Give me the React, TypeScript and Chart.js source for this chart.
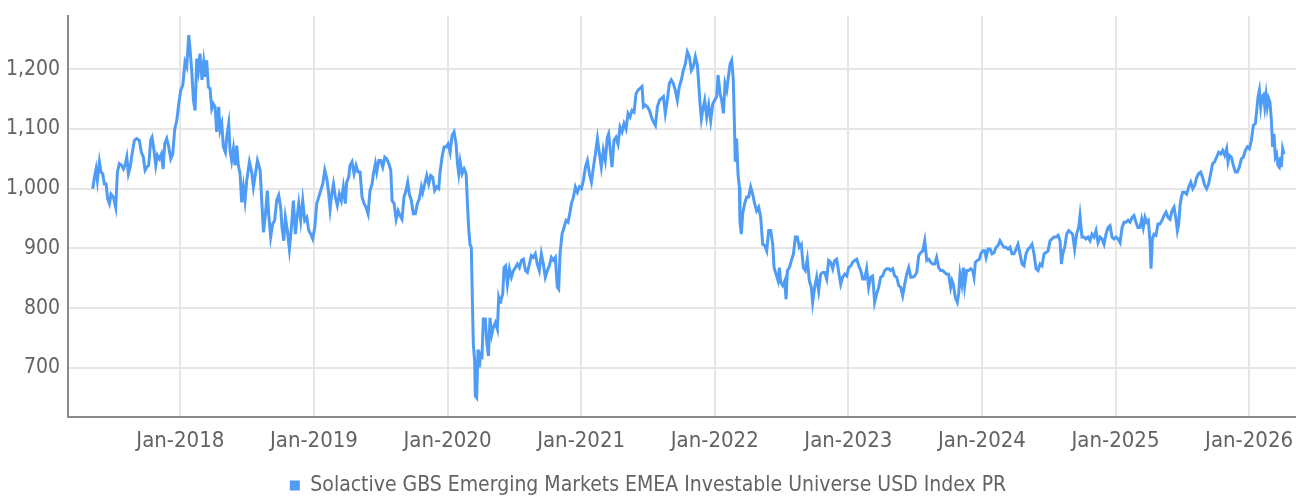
import React, { useEffect, useRef } from 'react';
import { Chart, registerables } from 'chart.js';

Chart.register(...registerables);

const seriesName = 'Solactive GBS Emerging Markets EMEA Investable Universe USD Index PR';

const dates2017 = [
  2017.344, 2017.357, 2017.369, 2017.379, 2017.394, 2017.406, 2017.419, 2017.431, 2017.444, 2017.456,
  2017.469, 2017.481, 2017.499, 2017.516, 2017.529, 2017.544, 2017.561, 2017.574, 2017.586, 2017.599,
  2017.611, 2017.624, 2017.641, 2017.656, 2017.673, 2017.693, 2017.708, 2017.723, 2017.736, 2017.748,
  2017.763, 2017.778, 2017.788, 2017.803, 2017.816, 2017.828, 2017.843, 2017.858, 2017.871, 2017.883,
  2017.898, 2017.913, 2017.928, 2017.943, 2017.958, 2017.973, 2017.988, 2018.003, 2018.018, 2018.035,
  2018.048, 2018.063, 2018.073, 2018.085, 2018.098, 2018.110, 2018.123, 2018.135, 2018.147, 2018.162,
  2018.175, 2018.187, 2018.197, 2018.210, 2018.222, 2018.235, 2018.247, 2018.260, 2018.272, 2018.287,
  2018.297, 2018.310, 2018.322, 2018.337, 2018.350, 2018.362, 2018.372, 2018.384, 2018.397, 2018.409,
  2018.422, 2018.434, 2018.447, 2018.459, 2018.472, 2018.484, 2018.497, 2018.517, 2018.534, 2018.547,
  2018.562, 2018.577,
];
const values2017 = [
  1000, 1019, 1033, 1014, 1045, 1028, 1025, 1008, 1008, 983,
  975, 991, 986, 969, 1028, 1042, 1039, 1033, 1039, 1053,
  1025, 1036, 1061, 1081, 1084, 1081, 1061, 1053, 1031, 1036,
  1039, 1081, 1086, 1064, 1039, 1056, 1050, 1058, 1033, 1075,
  1084, 1070, 1050, 1058, 1100, 1114, 1142, 1165, 1173, 1212,
  1204, 1257, 1232, 1198, 1148, 1131, 1218, 1198, 1226, 1182,
  1212, 1187, 1215, 1170, 1168, 1134, 1142, 1137, 1095, 1137,
  1098, 1109, 1070, 1061, 1092, 1109, 1064, 1047, 1067, 1039,
  1072, 1039, 1025, 977, 1003, 980, 1014, 1045, 1028, 1003,
  1025, 1047,
];

const dates2018 = [
  2018.597, 2018.612, 2018.622, 2018.637, 2018.651, 2018.661, 2018.676, 2018.691, 2018.706, 2018.721,
  2018.736, 2018.751, 2018.761, 2018.774, 2018.786, 2018.801, 2018.816, 2018.831, 2018.846, 2018.861,
  2018.871, 2018.886, 2018.901, 2018.916, 2018.931, 2018.946, 2018.961, 2018.976, 2018.991, 2019.006,
  2019.021, 2019.036, 2019.051, 2019.066, 2019.081, 2019.096, 2019.108, 2019.121, 2019.133, 2019.146,
  2019.160, 2019.175, 2019.190, 2019.205, 2019.220, 2019.235, 2019.245, 2019.260, 2019.270, 2019.285,
  2019.300, 2019.315, 2019.330, 2019.345, 2019.360, 2019.375, 2019.390, 2019.405, 2019.420, 2019.435,
  2019.445, 2019.460, 2019.470, 2019.485, 2019.500, 2019.515, 2019.530, 2019.545, 2019.560, 2019.575,
  2019.585, 2019.600, 2019.615, 2019.630, 2019.644, 2019.659, 2019.674, 2019.689, 2019.702, 2019.714,
  2019.729, 2019.744, 2019.759, 2019.774, 2019.789, 2019.804, 2019.814, 2019.829, 2019.844, 2019.859,
  2019.874, 2019.889, 2019.904, 2019.919, 2019.934, 2019.944, 2019.959, 2019.974, 2019.989, 2020.004,
  2020.019, 2020.034, 2020.049, 2020.064, 2020.074, 2020.084, 2020.094, 2020.109, 2020.124, 2020.139,
  2020.148, 2020.158, 2020.168, 2020.178, 2020.186, 2020.193, 2020.203, 2020.208, 2020.218, 2020.228,
  2020.238, 2020.248, 2020.258, 2020.268, 2020.283, 2020.293, 2020.306, 2020.318, 2020.331, 2020.343,
  2020.358, 2020.373, 2020.383, 2020.393,
];
const values2018 = [
  1031, 969, 927, 958, 997, 958, 919, 941, 947, 980,
  989, 969, 935, 913, 952, 930, 899, 935, 980, 924,
  947, 975, 947, 980, 947, 952, 930, 924, 916, 935,
  975, 986, 997, 1008, 1031, 1017, 997, 966, 991, 1008,
  986, 972, 991, 980, 1003, 975, 1011, 1019, 1039, 1045,
  1025, 1039, 1028, 1028, 986, 975, 969, 958, 997, 1008,
  1025, 1042, 1028, 1047, 1047, 1036, 1053, 1050, 1042, 1031,
  980, 975, 949, 963, 955, 949, 986, 997, 1011, 991,
  980, 958, 958, 975, 983, 1003, 994, 1008, 1022, 1008,
  1022, 1019, 997, 1003, 1000, 1028, 1053, 1070, 1070, 1075,
  1061, 1089, 1095, 1075, 1042, 1025, 1045, 1025, 1033, 1025,
  980, 935, 907, 902, 812, 740, 712, 653, 650, 731,
  701, 723, 720, 782, 782, 745, 720, 784, 756, 768,
  776, 765, 818, 810,
];

const dates2020 = [
  2020.398, 2020.413, 2020.423, 2020.435, 2020.448, 2020.463, 2020.478, 2020.493, 2020.508, 2020.523,
  2020.538, 2020.553, 2020.568, 2020.583, 2020.598, 2020.613, 2020.627, 2020.642, 2020.657, 2020.672,
  2020.687, 2020.702, 2020.717, 2020.732, 2020.747, 2020.762, 2020.777, 2020.792, 2020.807, 2020.822,
  2020.832, 2020.842, 2020.857, 2020.872, 2020.887, 2020.902, 2020.917, 2020.927, 2020.942, 2020.957,
  2020.972, 2020.987, 2021.002, 2021.017, 2021.032, 2021.047, 2021.062, 2021.077, 2021.092, 2021.107,
  2021.122, 2021.137, 2021.151, 2021.166, 2021.181, 2021.196, 2021.206, 2021.221, 2021.231, 2021.246,
  2021.261, 2021.276, 2021.291, 2021.306, 2021.321, 2021.336, 2021.351, 2021.366, 2021.381, 2021.396,
  2021.411, 2021.426, 2021.441, 2021.456, 2021.466, 2021.481, 2021.496, 2021.511, 2021.526, 2021.541,
  2021.556, 2021.571, 2021.586, 2021.601, 2021.616, 2021.630, 2021.645, 2021.660, 2021.675, 2021.690,
  2021.705, 2021.720, 2021.735, 2021.750, 2021.765, 2021.780, 2021.795, 2021.810, 2021.825, 2021.840,
  2021.855, 2021.870, 2021.880, 2021.890, 2021.900, 2021.910, 2021.925, 2021.940, 2021.955, 2021.970,
  2021.985, 2022.000, 2022.015, 2022.025, 2022.040,
];
const values2020 = [
  812, 824, 868, 871, 840, 866, 852, 863, 868, 874,
  868, 880, 882, 863, 860, 874, 888, 885, 891, 874,
  863, 891, 874, 852, 863, 871, 885, 880, 885, 835,
  832, 891, 924, 935, 947, 944, 961, 975, 986, 1003,
  994, 1003, 1000, 1014, 1036, 1047, 1025, 1011, 1036, 1058,
  1084, 1058, 1036, 1064, 1047, 1086, 1092, 1058, 1036, 1081,
  1086, 1075, 1103, 1095, 1109, 1100, 1126, 1120, 1131, 1128,
  1159, 1165, 1168, 1171, 1137, 1140, 1137, 1131, 1120, 1112,
  1106, 1137, 1148, 1151, 1154, 1126, 1148, 1176, 1182, 1176,
  1165, 1148, 1171, 1182, 1198, 1209, 1229, 1221, 1198, 1204,
  1221, 1207, 1176, 1142, 1117, 1131, 1148, 1120, 1140, 1114,
  1142, 1148, 1154, 1190, 1159,
];

const dates2022 = [
  2022.052, 2022.065, 2022.077, 2022.090, 2022.102, 2022.115, 2022.127, 2022.139, 2022.149, 2022.154,
  2022.164, 2022.174, 2022.184, 2022.189, 2022.199, 2022.209, 2022.224, 2022.239, 2022.254, 2022.269,
  2022.284, 2022.299, 2022.314, 2022.329, 2022.344, 2022.359, 2022.374, 2022.389, 2022.404, 2022.419,
  2022.434, 2022.444, 2022.459, 2022.474, 2022.484, 2022.494, 2022.509, 2022.524, 2022.534, 2022.544,
  2022.559, 2022.574, 2022.589, 2022.604, 2022.618, 2022.633, 2022.648, 2022.663, 2022.678, 2022.693,
  2022.708, 2022.723, 2022.733, 2022.748, 2022.763, 2022.778, 2022.793, 2022.808, 2022.823, 2022.838,
  2022.853, 2022.868, 2022.883, 2022.898, 2022.913, 2022.928, 2022.943, 2022.958, 2022.973, 2022.988,
  2023.003, 2023.018, 2023.033, 2023.048, 2023.063, 2023.078, 2023.093, 2023.108, 2023.122, 2023.137,
  2023.152, 2023.167, 2023.182, 2023.197, 2023.212, 2023.227, 2023.242, 2023.257, 2023.272, 2023.287,
  2023.302, 2023.317, 2023.332, 2023.347, 2023.362, 2023.377, 2023.392, 2023.407, 2023.422, 2023.437,
  2023.452, 2023.467, 2023.482, 2023.497, 2023.512, 2023.527, 2023.542, 2023.557, 2023.572, 2023.587,
  2023.602, 2023.617, 2023.631, 2023.646, 2023.661, 2023.676, 2023.691, 2023.706, 2023.721, 2023.736,
  2023.751, 2023.766, 2023.776, 2023.786, 2023.801, 2023.816, 2023.826,
];
const values2022 = [
  1148, 1126, 1176, 1165, 1187, 1209, 1215, 1182, 1092, 1045,
  1084, 1025, 1003, 944, 924, 958, 975, 986, 986, 1003,
  991, 975, 963, 969, 952, 907, 905, 896, 930, 930,
  907, 868, 857, 846, 868, 843, 838, 846, 815, 863,
  868, 880, 891, 919, 919, 902, 907, 868, 863, 882,
  846, 835, 810, 835, 852, 829, 857, 860, 860, 849,
  880, 877, 866, 880, 882, 860, 840, 852, 857, 854,
  868, 871, 877, 880, 882, 871, 863, 849, 849, 866,
  835, 852, 854, 810, 824, 835, 852, 854, 863, 866,
  866, 863, 866, 854, 852, 838, 835, 821, 840, 857,
  868, 852, 852, 854, 860, 888, 893, 896, 913, 880,
  882, 877, 874, 874, 885, 868, 863, 863, 860, 857,
  857, 835, 846, 840, 818, 810, 824,
];

const dates2023 = [
  2023.836, 2023.849, 2023.861, 2023.871, 2023.886, 2023.901, 2023.916, 2023.931, 2023.941, 2023.951,
  2023.966, 2023.981, 2023.991, 2024.006, 2024.021, 2024.031, 2024.046, 2024.061, 2024.076, 2024.091,
  2024.106, 2024.121, 2024.135, 2024.150, 2024.165, 2024.180, 2024.195, 2024.210, 2024.225, 2024.240,
  2024.255, 2024.270, 2024.285, 2024.300, 2024.315, 2024.330, 2024.345, 2024.360, 2024.375, 2024.390,
  2024.405, 2024.420, 2024.435, 2024.450, 2024.465, 2024.480, 2024.495, 2024.510, 2024.525, 2024.540,
  2024.555, 2024.570, 2024.585, 2024.595, 2024.605, 2024.620, 2024.634, 2024.649, 2024.664, 2024.679,
  2024.694, 2024.709, 2024.724, 2024.734, 2024.749, 2024.764, 2024.779, 2024.794, 2024.809, 2024.824,
  2024.839, 2024.854, 2024.869, 2024.884, 2024.899, 2024.914, 2024.929, 2024.944, 2024.959, 2024.974,
  2024.989, 2025.004, 2025.019, 2025.034, 2025.049, 2025.064, 2025.079, 2025.094, 2025.109, 2025.124,
  2025.138, 2025.153, 2025.168,
];
const values2023 = [
  857, 840, 868, 838, 863, 863, 866, 863, 852, 877,
  880, 882, 891, 896, 896, 885, 899, 899, 891, 893,
  902, 905, 913, 907, 902, 902, 899, 902, 891, 891,
  899, 907, 891, 874, 871, 891, 899, 902, 907, 891,
  866, 863, 874, 871, 891, 893, 896, 913, 916, 919,
  919, 922, 913, 874, 891, 902, 924, 930, 927, 924,
  899, 924, 935, 955, 919, 919, 916, 919, 913, 924,
  919, 930, 910, 919, 916, 907, 924, 935, 938, 919,
  916, 919, 916, 910, 935, 944, 944, 947, 944, 952,
  955, 944, 935,
];

const dates2025 = [
  2025.183, 2025.196, 2025.208, 2025.221, 2025.233, 2025.246, 2025.258, 2025.266, 2025.276, 2025.288,
  2025.303, 2025.318, 2025.333, 2025.348, 2025.363, 2025.378, 2025.393, 2025.408, 2025.423, 2025.438,
  2025.453, 2025.463, 2025.473, 2025.483, 2025.493, 2025.503, 2025.518, 2025.533, 2025.548, 2025.563,
  2025.578, 2025.593, 2025.608, 2025.622, 2025.637, 2025.652, 2025.667, 2025.682, 2025.697, 2025.712,
  2025.727, 2025.742, 2025.757, 2025.772, 2025.787, 2025.802, 2025.817, 2025.832, 2025.842, 2025.852,
  2025.867, 2025.882, 2025.897, 2025.912, 2025.927, 2025.942, 2025.957, 2025.972, 2025.987, 2026.002,
  2026.017, 2026.032, 2026.047, 2026.057, 2026.067, 2026.077, 2026.087, 2026.097, 2026.107, 2026.117,
  2026.127, 2026.136, 2026.146, 2026.156, 2026.166, 2026.176, 2026.186, 2026.196, 2026.206, 2026.216,
  2026.226, 2026.236, 2026.241, 2026.251, 2026.261,
];
const values2025 = [
  935, 949, 935, 952, 944, 947, 913, 866, 916, 924,
  922, 941, 941, 947, 955, 961, 952, 949, 963, 969,
  949, 930, 941, 972, 986, 994, 994, 991, 1003, 1011,
  1000, 1006, 1019, 1025, 1028, 1019, 1006, 1000, 1008, 1025,
  1042, 1045, 1053, 1061, 1058, 1064, 1056, 1067, 1045, 1056,
  1053, 1039, 1028, 1028, 1036, 1050, 1053, 1064, 1070, 1067,
  1081, 1106, 1109, 1131, 1154, 1165, 1137, 1154, 1157, 1137,
  1157, 1137, 1151, 1145, 1117, 1070, 1092, 1053, 1058, 1039,
  1036, 1053, 1036, 1067, 1058,
];

const yTickValues = [700, 800, 900, 1000, 1100, 1200];
const xTickValues = [2018, 2019, 2020, 2021, 2022, 2023, 2024, 2025, 2026];
const xTickLabels = ['Jan-2018', 'Jan-2019', 'Jan-2020', 'Jan-2021', 'Jan-2022', 'Jan-2023', 'Jan-2024', 'Jan-2025', 'Jan-2026'];

const LINE_COLOR = '#4f9cf6';
const TEXT_COLOR = '#636363';
const GRID_COLOR = '#e6e6e6';
const AXIS_COLOR = '#8a8a8a';
const FONT_FAMILY = "'DejaVu Sans Condensed', 'Liberation Sans Narrow', 'Roboto', sans-serif";

export default function App() {
  const canvasRef = useRef<HTMLCanvasElement>(null);

  useEffect(() => {
    document.body.style.margin = '0';
    const dates = [...dates2017, ...dates2018, ...dates2020, ...dates2022, ...dates2023, ...dates2025];
    const values = [...values2017, ...values2018, ...values2020, ...values2022, ...values2023, ...values2025];
    const points = dates.map((d, i) => ({ x: d, y: values[i] }));

    const chart = new Chart(canvasRef.current as HTMLCanvasElement, {
      type: 'line',
      data: {
        datasets: [
          {
            label: seriesName,
            data: points,
            borderColor: LINE_COLOR,
            backgroundColor: LINE_COLOR,
            borderWidth: 3,
            pointRadius: 0,
            pointHoverRadius: 0,
            tension: 0,
            fill: false,
          },
        ],
      },
      options: {
        animation: false,
        responsive: false,
        layout: { padding: { top: 16, left: 0, right: 0, bottom: 2 } },
        plugins: {
          tooltip: { enabled: false },
          legend: {
            position: 'bottom',
            maxHeight: 31,
            labels: {
              boxWidth: 10,
              boxHeight: 10,
              padding: 10,
              font: { family: FONT_FAMILY, size: 21 },
              color: TEXT_COLOR,
              generateLabels: () => [
                {
                  text: seriesName,
                  fillStyle: LINE_COLOR,
                  strokeStyle: LINE_COLOR,
                  lineWidth: 0,
                  hidden: false,
                  datasetIndex: 0,
                  fontColor: TEXT_COLOR,
                } as any,
              ],
            },
          },
        },
        scales: {
          x: {
            type: 'linear',
            min: 2017.159,
            max: 2026.351,
            afterBuildTicks: (scale: any) => {
              scale.ticks = xTickValues.map((v) => ({ value: v }));
            },
            afterFit: (scale: any) => {
              scale.height = 48;
              scale.paddingLeft = 0;
              scale.paddingRight = 0;
            },
            ticks: {
              autoSkip: false,
              maxRotation: 0,
              padding: 11,
              font: { family: FONT_FAMILY, size: 22 },
              color: TEXT_COLOR,
              callback: (_v: any, i: number) => xTickLabels[i],
            },
            grid: { color: GRID_COLOR, lineWidth: 2, drawTicks: false },
            border: { color: AXIS_COLOR, width: 2 },
          },
          y: {
            type: 'linear',
            min: 618,
            max: 1289,
            afterBuildTicks: (scale: any) => {
              scale.ticks = yTickValues.map((v) => ({ value: v }));
            },
            afterFit: (scale: any) => {
              scale.width = 68;
              scale.paddingTop = 0;
              scale.paddingBottom = 0;
            },
            ticks: {
              padding: 8,
              font: { family: FONT_FAMILY, size: 21 },
              color: TEXT_COLOR,
              callback: (v: any) => Number(v).toLocaleString('en-US'),
            },
            grid: { color: GRID_COLOR, lineWidth: 2, drawTicks: false },
            border: { color: AXIS_COLOR, width: 2 },
          },
        },
      },
    });
    return () => chart.destroy();
  }, []);

  return (
    <div style={{ position: 'absolute', left: 0, top: 0, width: 1296, height: 498, background: '#fff' }}>
      <canvas ref={canvasRef} width={1296} height={498} style={{ display: 'block', width: 1296, height: 498 }} />
    </div>
  );
}
